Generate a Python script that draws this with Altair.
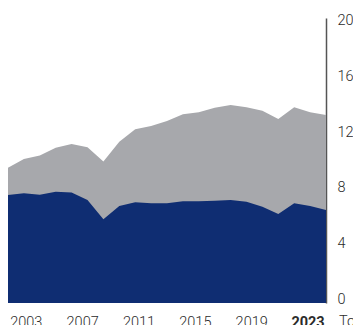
import altair as alt
import pandas as pd

years = list(range(2003, 2024))
total = [9.73, 10.36, 10.61, 11.17, 11.44, 11.20, 10.17, 11.60, 12.50, 12.73, 13.09,
         13.58, 13.72, 14.05, 14.24, 14.08, 13.83, 13.24, 14.08, 13.72, 13.53]
blue = [7.77, 7.89, 7.79, 8.01, 7.94, 7.41, 6.02, 6.98, 7.24, 7.17, 7.17,
        7.32, 7.32, 7.36, 7.41, 7.29, 6.93, 6.40, 7.17, 6.98, 6.69]
label_years = [2003, 2007, 2011, 2015, 2019, 2023]
y_ticks = [0, 4, 8, 12, 16, 20]

df = pd.DataFrame({"year": years, "total": total, "blue": blue})
lab = pd.DataFrame({"year": label_years})

FONT = "Roboto"
FS = 14.5
xs = alt.Scale(domain=[2003, 2023], nice=False, zero=False)
ys = alt.Scale(domain=[0, 20.5], nice=False)

gray = alt.Chart(df).mark_area(color="#a7a8ac", opacity=1).encode(
    x=alt.X("year:Q", scale=xs, axis=None),
    y=alt.Y("total:Q", scale=ys, title=None,
            axis=alt.Axis(orient="right", values=y_ticks, domain=True,
                          domainColor="#555555", domainWidth=1.5, ticks=False,
                          grid=False, labelPadding=11, labelBaseline="alphabetic",
                          labelFontSize=FS, labelColor="#2b2b2b", labelFont=FONT,
                          labelFontWeight=300, labelFlush=False)),
)
blue_area = alt.Chart(df).mark_area(color="#0f2d72", opacity=1).encode(
    x=alt.X("year:Q", scale=xs, axis=None),
    y=alt.Y("blue:Q", scale=ys),
)

labels = alt.Chart(lab).mark_point(opacity=0, size=0).encode(
    x=alt.X("year:Q",
            scale=alt.Scale(domain=[2001.736, 2024.31], nice=False, zero=False),
            title=None,
            axis=alt.Axis(orient="bottom", values=label_years, format="d",
                          domain=False, ticks=False, grid=False, labelFlush=False,
                          labelPadding=23, labelBaseline="alphabetic",
                          labelFontSize=FS, labelFont=FONT, labelColor="#2b2b2b",
                          labelFontWeight=alt.condition(alt.datum.value == 2023,
                                                        alt.value("bold"),
                                                        alt.value(300)))),
)

total_text = alt.Chart(pd.DataFrame({"t": ["Total"]})).mark_text(
    align="left", baseline="alphabetic", fontSize=FS, font=FONT, color="#2b2b2b",
    fontWeight=300
).encode(text="t:N", x=alt.value(331), y=alt.value(308))

chart = alt.layer(alt.layer(gray, blue_area), labels, total_text).resolve_scale(
    x="independent"
).properties(
    width=318, height=285,
    padding={"left": 8, "top": 18, "right": 27, "bottom": 22},
    autosize=alt.AutoSizeParams(type="none"),
).configure_view(stroke=None)

chart.save("out.html", embed_options={"renderer": "svg", "actions": False})
